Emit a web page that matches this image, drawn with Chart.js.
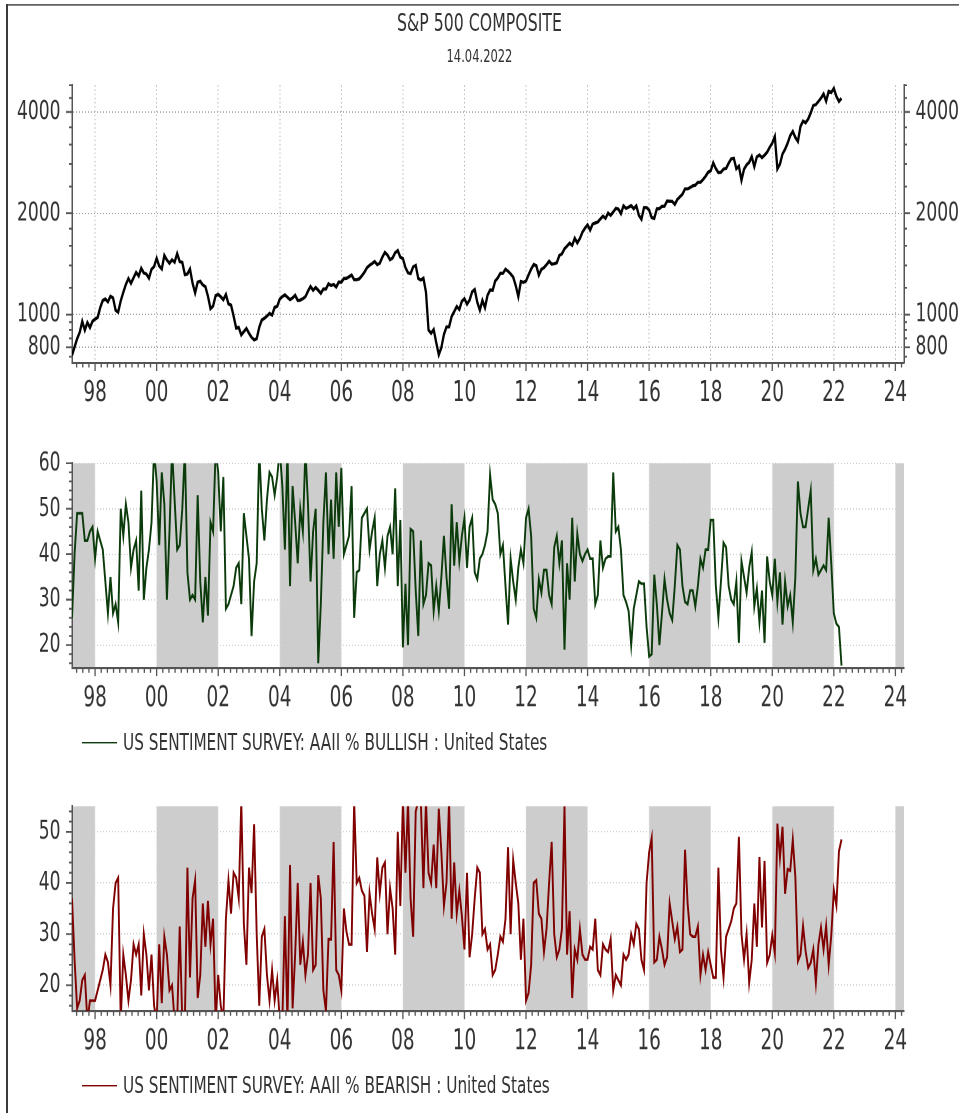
<!DOCTYPE html>
<html>
<head>
<meta charset="utf-8">
<script src="https://cdn.jsdelivr.net/npm/chart.js@4.4.1/dist/chart.umd.min.js"></script>
<style>
  html, body { margin: 0; padding: 0; background: #fff; width: 959px; height: 1113px; overflow: hidden; }
  #page {
    position: relative; width: 959px; height: 795px;
    transform: scaleY(1.4); transform-origin: 0 0;
    font-family: "Liberation Sans Narrow", "DejaVu Sans Condensed", "Arial Narrow", sans-serif;
    color: #333;
  }
  #frame { position: absolute; left: 6px; top: 2.6px; width: 1000px; height: 1000px;
           border-left: 2px solid #3a3a3a; border-top: 1.5px solid #3a3a3a; }
  .txt { position: absolute; left: 0; width: 959px; text-align: center; white-space: nowrap; }
  canvas { position: absolute; left: 0; }
  .legend { position: absolute; left: 82px; height: 20px; display: flex; align-items: center;
            font-size: 17px; line-height: 20px; white-space: nowrap; }
  .legend i { display: inline-block; width: 35px; border-top: 1.6px solid; margin-right: 6px; }
</style>
</head>
<body>
<div id="page">
  <div id="frame"></div>
  <div class="txt" style="top:6.3px;font-size:17.5px;line-height:21px">S&amp;P 500 COMPOSITE</div>
  <div class="txt" style="top:32px;font-size:12.8px;line-height:15px">14.04.2022</div>
  <canvas id="spx" width="959" height="261" style="top:38px"></canvas>
  <canvas id="bull" width="959" height="209" style="top:308px"></canvas>
  <div class="legend" style="top:520px"><i style="border-color:#0b3b0b"></i>US SENTIMENT SURVEY: AAII % BULLISH : United States</div>
  <canvas id="bear" width="959" height="209" style="top:553px"></canvas>
  <div class="legend" style="top:765px"><i style="border-color:#800000"></i>US SENTIMENT SURVEY: AAII % BEARISH : United States</div>
</div>
<script>
// monthly readings, first point = start of Apr 1997
const firstMonth = 1997.25;
const xMin = 1997.25, xMax = 2024.28;
const yearTicks = [1998, 2000, 2002, 2004, 2006, 2008, 2010, 2012, 2014, 2016, 2018, 2020, 2022, 2024];
const shadeBands = [[1997.25, 1998], [2000, 2002], [2004, 2006], [2008, 2010], [2012, 2014],
                    [2016, 2018], [2020, 2022], [2024, 2024.28]];

const sp500 = [
  757, 801, 848, 885, 954, 899, 947, 915, 955, 970,
  980, 1049, 1102, 1112, 1091, 1134, 1121, 1030, 1017, 1099, 1164, 1229,
  1280, 1238, 1286, 1335, 1302, 1373, 1329, 1320, 1283, 1363, 1389, 1469,
  1394, 1366, 1499, 1452, 1421, 1455, 1431, 1518, 1437, 1429, 1315, 1320,
  1366, 1240, 1160, 1249, 1256, 1224, 1211, 1134, 1041, 1060, 1139, 1148,
  1130, 1107, 1147, 1076, 1067, 990, 912, 916, 870, 890, 910, 880,
  856, 841, 848, 917, 964, 975, 990, 1008, 996, 1051, 1058, 1112,
  1131, 1145, 1126, 1107, 1121, 1141, 1102, 1104, 1115, 1130, 1174, 1212,
  1181, 1204, 1181, 1157, 1192, 1191, 1234, 1220, 1229, 1207, 1249, 1248,
  1280, 1281, 1295, 1311, 1270, 1270, 1277, 1304, 1336, 1378, 1401, 1418,
  1438, 1407, 1421, 1482, 1531, 1503, 1455, 1474, 1527, 1549, 1481, 1468,
  1379, 1331, 1323, 1386, 1400, 1280, 1267, 1283, 1166, 900, 880, 903,
  826, 760, 798, 873, 919, 919, 987, 1021, 1057, 1036, 1096, 1115,
  1074, 1104, 1169, 1187, 1089, 1031, 1102, 1049, 1141, 1183, 1181, 1258,
  1286, 1327, 1326, 1364, 1345, 1321, 1292, 1219, 1131, 1253, 1247, 1258,
  1312, 1366, 1408, 1398, 1310, 1362, 1379, 1407, 1441, 1412, 1416, 1426,
  1498, 1515, 1569, 1598, 1631, 1606, 1686, 1633, 1682, 1757, 1806, 1848,
  1783, 1859, 1872, 1884, 1924, 1960, 1931, 2003, 1972, 2018, 2068, 2059,
  1995, 2105, 2068, 2086, 2107, 2063, 2104, 1972, 1920, 2079, 2080, 2044,
  1940, 1932, 2060, 2065, 2097, 2099, 2174, 2171, 2168, 2126, 2199, 2239,
  2279, 2364, 2363, 2384, 2412, 2423, 2470, 2472, 2519, 2575, 2648, 2674,
  2824, 2714, 2641, 2648, 2705, 2718, 2816, 2902, 2914, 2712, 2760, 2507,
  2704, 2784, 2834, 2946, 2752, 2942, 2980, 2926, 2977, 3038, 3141, 3231,
  3380, 2710, 2800, 3000, 3100, 3230, 3400, 3500, 3360, 3270, 3620, 3756,
  3714, 3811, 3973, 4181, 4204, 4298, 4395, 4523, 4308, 4605, 4567, 4700,
  4450, 4300, 4390
];

const bullish = [
  26, 40, 49, 49, 49, 43, 43, 45, 46, 39,
  45, 43, 41, 34, 27, 35, 27, 29, 25, 50,
  44, 51, 47, 37, 41, 43, 32, 54, 30, 37,
  41, 47, 63, 56, 42, 58, 51, 30, 45, 63,
  52, 41, 42, 50, 63, 36, 30, 31, 30, 53,
  34, 25, 35, 26.5, 47, 45, 63, 58, 45, 57,
  28, 29, 31, 33, 37, 38, 29, 49, 44, 39,
  22, 34, 38, 63, 50, 43, 52, 58, 57, 53,
  57, 63, 55, 41, 63, 33, 55, 47, 38, 50,
  45, 63, 51, 34, 45, 50, 16, 29, 47, 58,
  40, 52, 39, 58, 46, 59, 40, 42, 44, 55,
  26, 36, 36.5, 48, 49, 50, 41, 45, 48, 33,
  40, 43, 37, 44, 46, 40, 54.5, 33, 47.5, 19.5,
  33.5, 20, 45.5, 45, 32, 22, 43, 29, 31, 38,
  37.5, 27.5, 33, 27.5, 35, 44, 35, 28, 51, 37.5,
  47, 38.5, 44, 48, 37, 46, 48, 36, 34.5, 39,
  40, 42, 45, 57.5, 52, 51, 49, 40, 42, 33,
  24.5, 39, 34, 30, 37, 41, 38, 48, 50, 44,
  28, 26, 34.5, 31.5, 36.5, 36.5, 31, 29, 41.5, 44,
  38, 43, 19, 38, 30, 48, 34, 44.5, 40, 38.5,
  40, 41, 39, 39, 29, 31, 43, 37, 39, 39.5,
  39.5, 58, 45, 46, 41, 31, 29.5, 27.5, 20, 28,
  31, 34, 33.5, 33.5, 24, 17.5, 18, 35.5, 29, 20,
  27, 34.5, 30, 27, 25.5, 33, 42, 41, 33, 29.5,
  29, 32, 32, 28.5, 33, 39, 37, 41, 41, 47.5,
  47.5, 33, 26, 34, 42.5, 41.5, 33, 30, 29, 34,
  20.5, 38.5, 35, 31.5, 37, 40.5, 28.5, 32.5, 25, 32,
  20.5, 39.5, 34, 31, 39, 29.5, 36, 24.5, 34, 28.5,
  31, 25, 35, 56, 49, 46, 46, 50, 54, 36.5,
  39, 35.5, 36.5, 37.5, 36.5, 48, 38, 27, 24.7, 24,
  15.5
];

const bearish = [
  37, 25, 15.5, 17, 21, 22, 13, 17, 17, 17,
  19, 21, 23, 26, 24.5, 20, 35, 40, 41, 13,
  26, 22, 17, 21, 28, 26, 28, 18, 30, 26,
  19, 26, 16, 13, 28, 16.5, 29.5, 26, 19, 20,
  13, 13, 31.5, 13, 13, 43, 21.5, 37, 40.5, 17.5,
  22, 36, 27.5, 36.5, 28, 33, 13, 22, 16, 13,
  33, 40.5, 34, 42, 41, 37, 56, 32, 24, 43,
  38, 51.5, 30, 16, 29.5, 31, 22, 17, 23, 17,
  21, 13, 13, 33.5, 13, 43.5, 15.5, 26, 40, 24,
  28.5, 22, 26, 40, 23, 24, 41.5, 37, 19, 15,
  29, 29, 48, 23, 22, 19, 35, 30.5, 28, 28,
  56, 40, 41, 38.5, 37.5, 26.5, 38, 34, 31, 45,
  38, 43, 44, 30, 39, 35, 26, 50, 35.5, 56,
  42, 56, 37, 29.5, 54, 56, 56, 39, 56, 42,
  40, 47.5, 39, 54.5, 46, 35.5, 40, 56, 33, 44,
  34, 38.5, 33.5, 27, 42, 25.5, 30, 37, 43, 42,
  30, 31, 27, 28, 22, 23, 26, 29.5, 28.5, 33,
  47, 30, 44.5, 40, 36, 25, 33, 17, 18.5, 24,
  40, 40.5, 34, 33, 26.5, 31, 40, 48, 30, 25.5,
  27, 31, 55, 26, 34.5, 17.5, 27, 25, 31, 26,
  25, 25, 27.5, 27, 33, 23, 22, 28, 27, 26.5,
  29, 19, 22, 21, 20, 26, 25, 26, 30, 28,
  32, 31, 25, 23, 40, 46, 48.8, 24.5, 25, 29.5,
  27, 24, 25.5, 36, 32.5, 29, 31.5, 26.5, 27, 46.5,
  36, 30, 29.5, 29.5, 31.5, 22, 26, 23, 26.5, 24,
  21.5, 21.5, 43, 27, 21.5, 29.5, 31, 32.5, 35, 36,
  49, 30, 25, 30, 20.5, 25, 36, 27.5, 45.1, 31.3,
  44.3, 24.4, 25.9, 29.8, 26.3, 51.6, 44.9, 51, 37.9, 42.7,
  42.4, 48.5, 41.2, 24.7, 26, 31.6, 26.7, 23.4, 24.4, 27,
  20.5, 28, 31.3, 27, 31.6, 24, 29.7, 38.6, 35.6, 46.2,
  48.5
];

const spTicks = [800, 1000, 2000, 4000];
const spMinor = [750, 850, 900, 950, 1200, 1400, 1600, 1800, 2400, 2800, 3200, 3600, 4400, 4800];
const bullTicks = [20, 30, 40, 50, 60];
const bearTicks = [20, 30, 40, 50];
const bullMinor = [16, 18, 22, 24, 26, 28, 32, 34, 36, 38, 42, 44, 46, 48, 52, 54, 56, 58];
const bearMinor = [16, 18, 22, 24, 26, 28, 32, 34, 36, 38, 42, 44, 46, 48, 52, 54];

const months = sp500.map((v, i) => firstMonth + i / 12);

const FONT = '"Liberation Sans Narrow", "DejaVu Sans Condensed", "Arial Narrow", sans-serif';
const TEXT = '#333';
const AXIS = '#555';

// shaded bands behind the grid + short tick marks on the axes
const decor = {
  id: 'decor',
  beforeDraw(chart, args, o) {
    if (!o.bands) return;
    const { ctx, chartArea: a, scales: { x } } = chart;
    ctx.save();
    ctx.fillStyle = '#cdcdcd';
    o.bands.forEach(([s, e]) => {
      const x0 = x.getPixelForValue(s), x1 = x.getPixelForValue(e);
      ctx.fillRect(x0, a.top, x1 - x0, a.bottom - a.top);
    });
    ctx.restore();
  },
  afterDraw(chart, args, o) {
    const { ctx, chartArea: a, scales: { x, y } } = chart;
    ctx.save();
    ctx.strokeStyle = AXIS;
    ctx.lineWidth = 1.3;
    ctx.beginPath();
    for (let k = 9985; k <= 10122; k++) {
      const v = k / 5;
      if (v < xMin || v > xMax) continue;
      const px = x.getPixelForValue(v);
      ctx.moveTo(px, a.bottom);
      ctx.lineTo(px, a.bottom + (k % 10 === 0 ? 6 : 3.5));
    }
    const marks = (list, len) => list.forEach(v => {
      const py = y.getPixelForValue(v);
      ctx.moveTo(a.left, py); ctx.lineTo(a.left - len, py);
      if (o.right) { ctx.moveTo(a.right, py); ctx.lineTo(a.right + len, py); }
    });
    marks(o.yMajor, 6);
    marks(o.yMinor, 3);
    ctx.stroke();
    ctx.restore();
  }
};

function xScale(gridColor) {
  return {
    type: 'linear', min: xMin, max: xMax, bounds: 'data',
    afterBuildTicks: s => { s.ticks = yearTicks.map(v => ({ value: v })); },
    afterFit: s => { s.height = 40; },
    ticks: {
      callback: v => String(v % 100).padStart(2, '0'),
      font: { family: FONT, size: 20.5 }, color: TEXT, padding: 10,
      maxRotation: 0, autoSkip: false
    },
    grid: { drawTicks: false, color: gridColor, lineWidth: 1 },
    border: { color: AXIS, width: 1.5, dash: [1, 2] }
  };
}

function yScale(type, min, max, ticks, pos, gridColor) {
  return {
    type, position: pos, min, max, bounds: 'data',
    afterBuildTicks: s => { s.ticks = ticks.map(v => ({ value: v })); },
    afterFit: s => { s.width = pos === 'left' ? 72 : 55; },
    ticks: { callback: v => String(v), font: { family: FONT, size: 19 }, color: TEXT, padding: 11.5 },
    grid: { drawTicks: false, drawOnChartArea: pos === 'left', color: gridColor, lineWidth: 1 },
    border: { color: AXIS, width: 1.5, dash: [1, 2] }
  };
}

function baseOptions(padTop, padRight, decorOpts, scales) {
  return {
    responsive: false, animation: false, devicePixelRatio: 2,
    layout: { padding: { top: padTop, right: padRight, left: 0, bottom: 0 } },
    plugins: { legend: { display: false }, tooltip: { enabled: false }, decor: decorOpts },
    scales
  };
}

new Chart(document.getElementById('spx'), {
  type: 'line',
  data: { labels: months, datasets: [{ data: sp500, borderColor: '#000', borderWidth: 2.3, pointRadius: 0, tension: 0 }] },
  options: baseOptions(22, 0, { yMajor: spTicks, yMinor: spMinor, right: true }, {
    x: xScale('#b4b4b4'),
    y: yScale('logarithmic', 720, 4800, spTicks, 'left', '#a0a0a0'),
    y2: yScale('logarithmic', 720, 4800, spTicks, 'right', '#a0a0a0')
  }),
  plugins: [decor]
});

new Chart(document.getElementById('bull'), {
  type: 'line',
  data: { labels: months, datasets: [{ data: bullish, borderColor: '#0b3b0b', borderWidth: 1.9, pointRadius: 0, tension: 0 }] },
  options: baseOptions(22.7, 55, { bands: shadeBands, yMajor: bullTicks, yMinor: bullMinor }, {
    x: xScale('#e2e2e2'),
    y: yScale('linear', 15, 60, bullTicks, 'left', '#d0d0d0')
  }),
  plugins: [decor]
});

new Chart(document.getElementById('bear'), {
  type: 'line',
  data: { labels: months, datasets: [{ data: bearish, borderColor: '#800000', borderWidth: 1.9, pointRadius: 0, tension: 0 }] },
  options: baseOptions(22.5, 55, { bands: shadeBands, yMajor: bearTicks, yMinor: bearMinor }, {
    x: xScale('#e2e2e2'),
    y: yScale('linear', 15, 55, bearTicks, 'left', '#d0d0d0')
  }),
  plugins: [decor]
});
</script>
</body>
</html>
